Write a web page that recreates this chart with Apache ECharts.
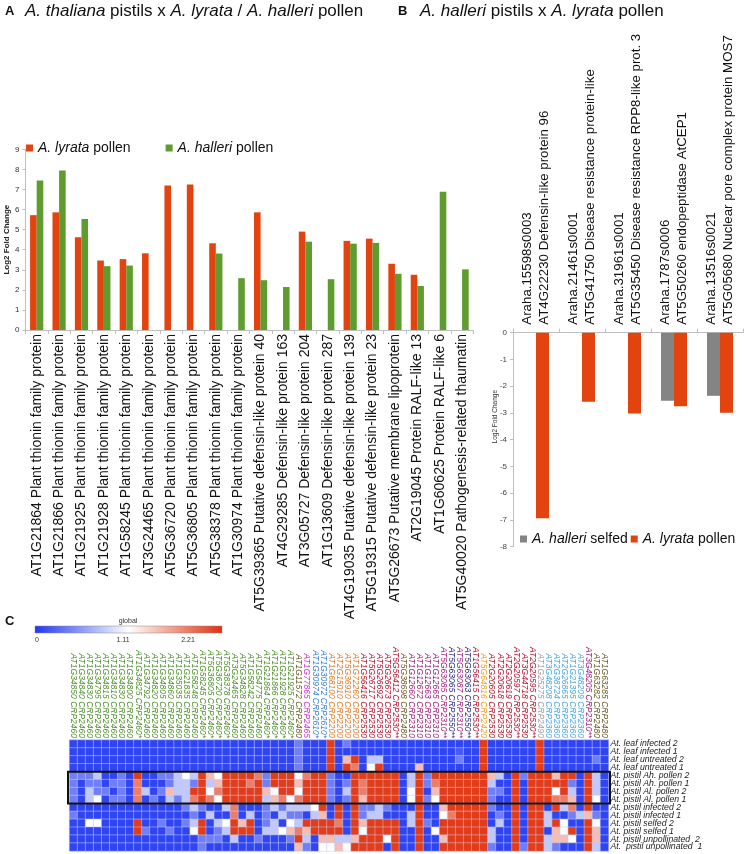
<!DOCTYPE html>
<html><head><meta charset="utf-8">
<script src="https://cdn.jsdelivr.net/npm/echarts@6/dist/echarts.min.js"></script>
<style>html,body{margin:0;padding:0;background:#fff}#c{width:744px;height:854px}</style>
</head><body><div id="c"></div>
<script>
// ---------- Panel A ----------
const aCategories = [
  'AT1G21864 Plant thionin family protein','AT1G21866 Plant thionin family protein',
  'AT1G21925 Plant thionin family protein','AT1G21928 Plant thionin family protein',
  'AT1G58245 Plant thionin family protein','AT3G24465 Plant thionin family protein',
  'AT5G36720 Plant thionin family protein','AT5G36805 Plant thionin family protein',
  'AT5G38378 Plant thionin family protein','AT1G30974 Plant thionin family protein',
  'AT5G39365 Putative defensin-like protein 40','AT4G29285 Defensin-like protein 163',
  'AT3G05727 Defensin-like protein 204','AT1G13609 Defensin-like protein 287',
  'AT4G19035 Putative defensin-like protein 139','AT5G19315 Putative defensin-like protein 23',
  'AT5G26673 Putative membrane lipoprotein','AT2G19045 Protein RALF-like 13',
  'AT1G60625 Protein RALF-like 6','AT5G40020 Pathogenesis-related thaumatin'
];
const aLyrataPollen  = [5.72,5.86,4.62,3.46,3.53,3.82,7.2,7.25,4.32,null,5.86,null,4.9,null,4.44,4.55,3.3,2.75,null,null];
const aHalleriPollen = [7.45,7.95,5.53,3.18,3.21,null,null,null,3.81,2.58,2.48,2.14,4.4,2.53,4.3,4.34,2.8,2.19,6.88,3.02];

// ---------- Panel B ----------
const bCategories = [
  'Araha.15598s0003\nAT4G22230 Defensin-like protein 96',
  'Araha.21461s0001\nAT5G41750 Disease resistance protein-like',
  'Araha.31961s0001\nAT5G35450 Disease resistance RPP8-like prot. 3',
  'Araha.1787s0006\nAT5G50260 endopeptidase AtCEP1',
  'Araha.13516s0021\nAT5G05680 Nuclear pore complex protein MOS7'
];
const bHalleriSelfed = [null,null,null,-2.54,-2.36];
const bLyrataPollen  = [-6.94,-2.58,-3.02,-2.75,-2.99];

// ---------- Panel C ----------
const cColumns = [
  'AT1G34850 CRP2460','AT1G34840 CRP2460','AT1G34830 CRP2460','AT1G34795 CRP2460','AT1G34815 CRP2460',
  'AT1G34810 CRP2460','AT1G34830 CRP2460','AT1G34800 CRP2460','AT1G34825 CRP2460*','AT1G34792 CRP2460',
  'AT1G34820 CRP2460','AT1G34805 CRP2460','AT1G34860 CRP2460','AT1G35035 CRP2460','AT1G21835 CRP2460',
  'AT1G58248 CRP2460','AT1G58245 CRP2460*','AT5G36805 CRP2460*','AT5G36720 CRP2460*','AT5G38378 CRP2460*',
  'AT3G24465 CRP2460','AT5G34828 CRP2460','AT1G58242 CRP2460','AT1G54775 CRP2460','AT1G21864 CRP2460*',
  'AT1G21866 CRP2460*','AT1G21928 CRP2460*','AT1G21925 CRP2460*','AT1G11572 CRP2480','AT1G77865 CRP2465',
  'AT1G30974 CRP2610*','AT1G30972 CRP2610*','AT1G68100 CRP2200','AT2G15010 CRP2200','AT5G36910 CRP2200',
  'AT1G72260 CRP2200','AT1G56416 CRP2530','AT5G26717 CRP2530','AT5G26692 CRP2530','AT5G26673 CRP2530',
  'AT5G56412 CRP2530**','AT5G38698 CRP2480','AT1G12660 CRP2310','AT1G12672 CRP2310','AT1G12663 CRP2310',
  'AT1G12665 CRP2310','AT5G63085 CRP2310**','AT5G63065 CRP2550**','AT5G63087 CRP2310**','AT5G63063 CRP2550**',
  'AT1G56415 CRP2530**','AT5G64816 CRP2420','AT2G20605 CRP2530','AT2G20618 CRP2530','AT2G20619 CRP2530',
  'AT2G20597 CRP2530**','AT3G44718 CRP2530','AT2G20595 CRP2530**','AT1G25275 CRP2490','AT3G48208 CRP2360',
  'AT2G38724 CRP2360','AT2G26865 CRP2360','AT1G21395 CRP2360','AT3G48209 CRP2360','AT3G48205 CRP2310**',
  'AT1G63282 CRP2480','AT1G63285 CRP2480'
];
const cRows = [
  'At. leaf infected 2','At. leaf infected 1','At. leaf untreated 2','At. leaf untreated 1',
  'At. pistil Ah. pollen 2','At. pistil Ah. pollen 1','At. pistil Al. pollen 2','At. pistil Al. pollen 1',
  'At. pistil infected 2','At. pistil infected 1','At. pistil selfed 2','At. pistil selfed 1',
  'At. pistil unpollinated  2','At.  pistil unpollinated  1'
];
const colorbarTicks = [0, 1.11, 2.21];

const leafInfected2 = [0.08,0.08,0.08,0.08,0.08,0.08,0.08,0.08,0.08,0.08, 0.08,0.08,0.08,0.08,0.08,0.08,0.08,0.08,0.08,0.08, 0.08,0.08,0.08,0.08,0.08,0.08,0.08,0.08,0.4,0.08, 0.08,0.08,2.15,0.08,0.4,0.08,0.08,0.08,0.08,0.08, 0.08,0.08,0.08,0.08,0.08,0.08,0.08,0.08,0.08,0.08, 0.08,2.15,0.08,0.08,0.08,0.08,0.08,0.08,2.15,0.08, 0.08,0.08,0.08,0.08,0.08,0.08,0.08];
const leafInfected1 = [0.08,0.08,0.08,0.08,0.08,0.08,0.08,0.08,0.08,0.08, 0.08,0.08,0.08,0.08,0.08,0.08,0.08,0.08,0.08,0.08, 0.08,0.08,0.08,0.08,0.08,0.08,0.08,0.08,0.4,0.08, 0.08,0.08,2.15,0.08,0.08,0.08,0.08,0.08,0.08,0.08, 0.08,0.08,0.08,0.08,0.08,0.08,0.08,0.08,0.2,0.08, 0.08,2.15,0.08,0.08,0.08,0.08,0.08,0.08,2.15,0.08, 0.08,0.08,0.08,0.08,0.08,0.08,0.08];
const leafUntreated2 = [0.08,0.08,0.08,0.08,0.08,0.08,0.08,0.08,0.08,0.08, 0.08,0.08,0.08,0.08,0.08,0.08,0.08,0.08,0.08,0.08, 0.08,0.08,0.08,0.08,0.08,0.08,0.08,0.08,0.4,0.08, 0.08,0.08,2.15,0.08,1.45,2.15,0.08,0.8,0.8,0.08, 0.08,0.08,0.08,0.08,0.08,0.08,0.08,0.08,0.4,0.08, 0.08,2.15,0.08,0.08,0.08,0.08,0.08,0.08,2.15,0.08, 0.08,0.08,0.08,0.08,0.08,0.4,0.08];
const leafUntreated1 = [0.08,0.08,0.08,0.08,0.08,0.08,0.08,0.08,0.08,0.08, 0.08,0.08,0.08,0.08,0.08,0.08,0.08,0.08,0.08,0.08, 0.08,0.08,0.08,0.08,0.08,0.08,0.08,0.08,0.4,0.08, 0.08,0.08,2.15,0.08,2.15,1.8,0.08,1.1,2.15,0.08, 0.08,0.08,0.08,1.45,0.08,0.08,0.08,0.08,0.08,0.08, 0.08,2.15,0.08,0.08,0.08,0.08,0.08,0.08,2.15,0.08, 0.08,0.08,0.08,0.08,0.08,0.08,0.08];
const pistilAhPollen2 = [0.4,0.4,0.4,0.8,0.08,0.08,0.4,0.08,2.15,0.08, 0.08,0.4,0.4,0.8,1.1,0.8,2.15,1.45,1.1,2.15, 2.15,2.15,2.15,1.8,0.4,2.15,2.15,2.15,1.1,1.8, 2.15,2.15,0.4,0.08,0.08,2.15,2.15,2.15,2.15,2.15, 2.15,0.08,0.8,2.15,0.4,2.15,2.15,2.15,2.15,2.15, 2.15,2.15,1.45,0.8,0.08,2.15,0.4,2.15,2.15,2.15, 1.45,2.15,2.15,0.08,2.15,0.8,0.08];
const pistilAhPollen1 = [0.4,0.08,0.4,0.4,0.08,0.4,0.4,0.08,1.8,0.08, 0.08,0.08,0.4,0.8,0.8,0.4,2.15,0.8,1.45,2.15, 2.15,2.15,1.8,2.15,0.4,2.15,2.15,2.15,1.45,2.15, 2.15,2.15,0.4,0.08,0.4,2.15,1.8,2.15,2.15,2.15, 2.15,0.08,0.8,2.15,0.4,1.8,2.15,2.15,2.15,2.15, 2.15,2.15,0.8,0.08,0.08,2.15,0.08,2.15,2.15,2.15, 2.15,2.15,0.4,0.08,2.15,0.8,0.08];
const pistilAlPollen2 = [0.4,0.08,0.8,0.4,0.4,0.08,0.4,0.08,1.8,0.8, 0.08,0.4,1.45,0.8,0.8,2.15,2.15,1.1,1.8,2.15, 2.15,2.15,2.15,2.15,1.45,1.1,2.15,2.15,1.1,2.15, 2.15,2.15,0.4,0.08,0.8,2.15,1.8,2.15,2.15,2.15, 2.15,0.08,1.1,2.15,0.08,1.45,2.15,2.15,2.15,2.15, 2.15,2.15,0.4,0.4,0.08,2.15,0.08,2.15,2.15,2.15, 1.1,2.15,0.8,0.08,2.15,0.8,0.08];
const pistilAlPollen1 = [0.4,0.08,0.8,1.1,0.08,0.4,0.4,0.08,1.8,0.08, 0.4,0.08,0.8,0.4,0.8,1.8,2.15,1.8,1.1,2.15, 2.15,2.15,2.15,2.15,0.8,1.45,1.8,1.1,1.8,2.15, 2.15,2.15,0.4,0.08,0.4,2.15,1.45,2.15,2.15,2.15, 2.15,0.08,1.1,2.15,0.4,1.1,2.15,2.15,2.15,2.15, 2.15,2.15,0.4,0.08,0.08,2.15,0.08,2.15,2.15,2.15, 1.8,1.8,1.45,0.08,2.15,1.1,0.08];
const pistilInfected2 = [0.08,0.08,0.08,0.08,0.08,0.08,0.08,0.08,0.08,0.08, 0.08,0.08,0.08,0.08,0.4,0.8,0.4,0.08,0.08,0.8, 1.8,0.08,0.08,0.08,0.4,0.8,0.4,0.8,0.8,0.8, 1.1,2.15,0.08,2.15,0.08,2.15,0.4,0.4,0.8,0.4, 0.08,0.08,0.08,2.15,0.08,0.08,1.45,2.15,2.15,2.15, 2.15,2.15,0.4,0.08,0.08,2.15,0.08,2.15,2.15,0.08, 2.15,0.8,1.8,0.08,2.15,0.08,0.08];
const pistilInfected1 = [0.4,0.08,0.08,0.08,0.08,0.08,0.08,0.08,0.08,0.08, 0.08,0.08,0.08,0.08,0.08,0.4,0.08,0.8,0.08,0.08, 1.8,0.08,0.8,0.08,0.4,0.08,0.8,0.4,0.4,0.08, 0.8,1.45,0.08,2.15,0.08,2.15,0.4,0.8,0.8,0.08, 0.08,0.08,0.8,2.15,0.08,0.08,1.1,1.8,2.15,2.15, 2.15,2.15,0.08,0.4,0.08,2.15,0.08,2.15,2.15,0.8, 0.08,0.08,0.4,0.8,1.45,0.4,0.08];
const pistilSelfed2 = [0.08,0.08,1.1,1.1,0.08,0.08,0.08,0.08,2.15,0.08, 0.08,0.4,0.08,0.08,0.4,0.8,2.15,0.08,0.8,1.1, 2.15,1.45,2.15,0.08,0.4,0.8,0.08,1.1,0.8,2.15, 2.15,2.15,2.15,1.8,0.08,2.15,1.45,2.15,2.15,2.15, 2.15,0.08,0.8,2.15,0.4,0.08,2.15,2.15,2.15,2.15, 2.15,2.15,0.08,0.8,0.08,2.15,0.08,2.15,2.15,0.8, 2.15,1.1,0.08,0.08,2.15,1.1,0.08];
const pistilSelfed1 = [0.08,0.08,0.08,0.08,0.08,0.08,0.08,0.08,2.15,0.4, 0.08,0.08,0.4,0.08,0.08,1.1,2.15,0.08,0.4,0.8, 2.15,2.15,2.15,0.08,0.8,0.8,1.1,1.45,1.8,1.45, 2.15,2.15,2.15,2.15,0.08,2.15,1.1,2.15,2.15,2.15, 2.15,0.08,0.08,2.15,0.08,1.1,2.15,2.15,2.15,2.15, 2.15,2.15,0.8,0.08,0.08,2.15,0.08,2.15,2.15,0.08, 1.45,1.1,2.15,0.08,2.15,1.45,0.08];
const pistilUnpollinated2 = [0.08,0.08,0.08,0.08,0.08,0.08,0.08,0.08,0.08,0.08, 0.08,0.08,0.08,0.08,0.08,0.08,0.4,0.4,0.4,0.08, 0.8,0.08,0.08,0.4,0.08,0.08,0.08,0.4,2.15,0.8, 0.08,1.45,1.45,0.8,0.8,1.45,2.15,2.15,2.15,1.1, 2.15,0.08,0.08,2.15,0.08,0.08,1.45,2.15,2.15,2.15, 2.15,2.15,0.8,0.08,0.08,2.15,0.08,2.15,2.15,0.8, 1.45,1.45,1.1,0.08,2.15,1.45,0.08];
const pistilUnpollinated1 = [0.08,0.08,0.08,0.08,0.08,0.08,0.08,0.08,0.08,0.08, 0.08,0.08,0.08,0.08,0.08,0.08,0.4,0.08,0.08,0.08, 0.08,0.08,0.08,0.08,0.08,0.08,0.08,0.08,1.45,0.4, 0.08,1.1,1.1,1.45,1.1,2.15,2.15,2.15,2.15,0.08, 2.15,0.08,0.08,2.15,0.08,0.08,2.15,2.15,2.15,2.15, 2.15,2.15,0.4,0.08,0.08,2.15,0.4,2.15,2.15,0.8, 0.4,0.08,0.08,0.08,2.15,0.8,0.08];

const heatRows = [leafInfected2, leafInfected1, leafUntreated2, leafUntreated1,
  pistilAhPollen2, pistilAhPollen1, pistilAlPollen2, pistilAlPollen1,
  pistilInfected2, pistilInfected1, pistilSelfed2, pistilSelfed1,
  pistilUnpollinated2, pistilUnpollinated1];

const heatData = [];
heatRows.forEach((row, r) => row.forEach((v, c) => heatData.push([c, r, v])));

const familyColor = {
  CRP2460:'#4f8f2b', CRP2480:'#6a5a26', CRP2465:'#c834c8', CRP2610:'#3a7fd0',
  CRP2200:'#e07a28', CRP2530:'#b3122e', CRP2310:'#a0207c', CRP2550:'#2a2a82',
  CRP2420:'#e8a21e', CRP2490:'#a0a0a0', CRP2360:'#4ea6dc'
};
const FONT = 'Liberation Sans, Arial, sans-serif';
const RED = '#e2430f', GREEN = '#5e9c2f', GRAY = '#848484';

const chart = echarts.init(document.getElementById('c'));
const legendNames = {
  lyA:'{i|A. lyrata} pollen', haA:'{i|A. halleri} pollen',
  haB:'{i|A. halleri} selfed', lyB:'{i|A. lyrata} pollen'
};
const legendText = {fontSize:14, color:'#111', fontFamily:FONT,
  rich:{i:{fontStyle:'italic', fontSize:14, color:'#111', fontFamily:FONT}}};

const graphics = [
  {type:'text', id:'gA', left:5, top:5, style:{text:'A', font:'bold 13px Liberation Sans', fill:'#111'}},
  {type:'text', id:'tA', left:25, top:3, style:{text:'{i|A. thaliana} pistils x {i|A. lyrata} / {i|A. halleri} pollen',
     fontSize:17, fontFamily:FONT, fill:'#111', rich:{i:{fontStyle:'italic', fontSize:17, fontFamily:FONT, fill:'#111'}}}},
  {type:'text', id:'gB', left:398, top:5, style:{text:'B', font:'bold 13px Liberation Sans', fill:'#111'}},
  {type:'text', id:'tB', left:420, top:3, style:{text:'{i|A. halleri} pistils x {i|A. lyrata} pollen',
     fontSize:17, fontFamily:FONT, fill:'#111', rich:{i:{fontStyle:'italic', fontSize:17, fontFamily:FONT, fill:'#111'}}}},
  {type:'text', id:'gC', left:5, top:615, style:{text:'C', font:'bold 13px Liberation Sans', fill:'#111'}},
  {type:'rect', id:'cbar', shape:{x:35, y:626, width:187, height:7},
     style:{fill:new echarts.graphic.LinearGradient(0,0,1,0,[
       {offset:0,color:'#1f36f2'},{offset:0.5,color:'#ffffff'},{offset:1,color:'#e2300c'}]),
       stroke:'#888', lineWidth:0.5}},
  {type:'text', id:'cglob', x:128, y:621, style:{text:'global', fontSize:7, fontFamily:FONT, fill:'#333', align:'center', verticalAlign:'middle'}},
  {type:'text', id:'ct0', x:37, y:640, style:{text:String(colorbarTicks[0]), fontSize:7, fontFamily:FONT, fill:'#333', align:'center', verticalAlign:'middle'}},
  {type:'text', id:'ct1', x:123, y:640, style:{text:String(colorbarTicks[1]), fontSize:7, fontFamily:FONT, fill:'#333', align:'center', verticalAlign:'middle'}},
  {type:'text', id:'ct2', x:188, y:640, style:{text:String(colorbarTicks[2]), fontSize:7, fontFamily:FONT, fill:'#333', align:'center', verticalAlign:'middle'}}
];

const option = {
  animation:false,
  textStyle:{fontFamily:FONT},
  graphic:graphics,
  grid:[
    {left:25.5, top:149.3, width:447.8, height:180.7, outerBoundsMode:'none'},
    {left:513, top:332.7, width:230, height:214, outerBoundsMode:'none'},
    {left:69.5, top:740, width:539, height:111, outerBoundsMode:'none'}
  ],
  legend:[
    {data:['lyA','haA'], left:26, top:141, padding:0, icon:'rect', itemWidth:7, itemHeight:7, itemGap:35,
     formatter:n => legendNames[n], textStyle:legendText, selectedMode:false},
    {data:['haB','lyB'], left:520, top:532, width:400, padding:0, icon:'rect', itemWidth:7, itemHeight:7, itemGap:3,
     formatter:n => legendNames[n], textStyle:legendText, selectedMode:false}
  ],
  xAxis:[
    {type:'category', gridIndex:0, data:aCategories,
     axisLine:{lineStyle:{color:'#bfbfbf'}}, axisTick:{show:true, length:4, lineStyle:{color:'#bfbfbf'}},
     axisLabel:{interval:0, rotate:90, fontSize:14, color:'#111', margin:4}},
    {type:'category', gridIndex:1, position:'top', data:bCategories,
     axisLine:{lineStyle:{color:'#bfbfbf'}}, axisTick:{show:true, length:4, lineStyle:{color:'#bfbfbf'}},
     axisLabel:{interval:0, rotate:90, fontSize:13.3, lineHeight:17, color:'#111', margin:8}},
    {type:'category', gridIndex:2, position:'top', data:cColumns,
     axisLine:{show:false}, axisTick:{show:false}, splitArea:{show:false},
     axisLabel:{interval:0, rotate:90, fontSize:8.5, fontStyle:'italic', margin:2,
       color:(v) => familyColor[(String(v).match(/CRP\d+/)||[''])[0]] || '#333'}}
  ],
  yAxis:[
    {type:'value', gridIndex:0, min:0, max:9, interval:1, splitLine:{show:false},
     axisLine:{show:true, lineStyle:{color:'#bfbfbf'}}, axisTick:{show:true, length:3, lineStyle:{color:'#bfbfbf'}},
     axisLabel:{fontSize:8, color:'#333', margin:6},
     name:'Log2 Fold Change', nameLocation:'middle', nameGap:15, nameMoveOverlap:false,
     nameTextStyle:{fontSize:8, color:'#222', fontWeight:'bold'}},
    {type:'value', gridIndex:1, min:-8, max:0, interval:1, splitLine:{show:false},
     axisLine:{show:true, lineStyle:{color:'#bfbfbf'}}, axisTick:{show:true, length:3, lineStyle:{color:'#bfbfbf'}},
     axisLabel:{fontSize:8, color:'#444', margin:6},
     name:'Log2 Fold Change', nameLocation:'middle', nameGap:14, nameMoveOverlap:false,
     nameTextStyle:{fontSize:6.5, color:'#333', padding:[0,0,0,46]}},
    {type:'category', gridIndex:2, position:'right', inverse:true, data:cRows,
     axisLine:{show:false}, axisTick:{show:false}, splitArea:{show:false},
     axisLabel:{interval:0, fontSize:8.7, fontStyle:'italic', color:'#222', margin:2}}
  ],
  visualMap:{show:false, type:'continuous', min:colorbarTicks[0], max:colorbarTicks[2], seriesIndex:4,
    inRange:{color:['#1f36f2','#ffffff','#e2300c']}},
  series:[
    {type:'bar', name:'lyA', xAxisIndex:0, yAxisIndex:0, data:aLyrataPollen, barWidth:6.6, barGap:'0%', itemStyle:{color:RED}},
    {type:'bar', name:'haA', xAxisIndex:0, yAxisIndex:0, data:aHalleriPollen, barWidth:6.6, barGap:'0%', itemStyle:{color:GREEN}},
    {type:'bar', name:'haB', xAxisIndex:1, yAxisIndex:1, data:bHalleriSelfed, barWidth:13, barGap:'0%', itemStyle:{color:GRAY}},
    {type:'bar', name:'lyB', xAxisIndex:1, yAxisIndex:1, data:bLyrataPollen, barWidth:13, barGap:'0%', itemStyle:{color:RED}},
    {type:'heatmap', xAxisIndex:2, yAxisIndex:2, data:heatData,
     itemStyle:{borderColor:'#c8cbe8', borderWidth:0.5}, emphasis:{disabled:true}}
  ]
};
chart.setOption(option);

// black frame around the four pollinated-pistil rows
const p0 = chart.convertToPixel({gridIndex:2}, [0, 4]);
const p1 = chart.convertToPixel({gridIndex:2}, [cColumns.length - 1, 7]);
const cw = (p1[0] - p0[0]) / (cColumns.length - 1);
const ch = (p1[1] - p0[1]) / 3;
chart.setOption({graphic:[{type:'rect', id:'box', z:100,
  shape:{x:p0[0] - cw/2 - 1.5, y:p0[1] - ch/2, width:p1[0] - p0[0] + cw + 3, height:p1[1] - p0[1] + ch},
  style:{fill:null, stroke:'#111', lineWidth:2}}]});
</script>
</body></html>
